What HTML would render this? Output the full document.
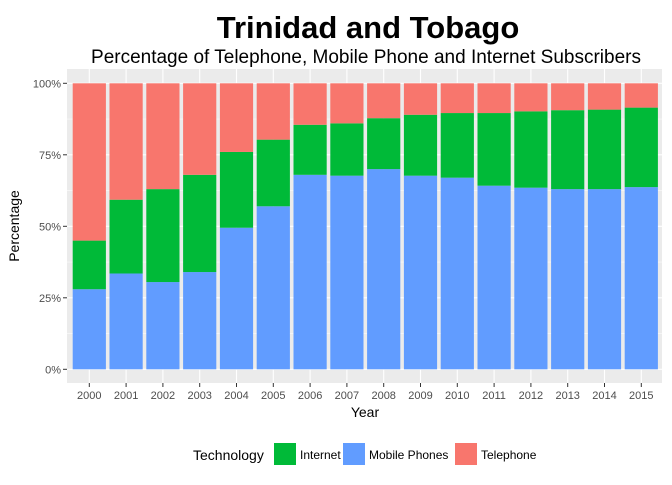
<!DOCTYPE html>
<html><head><meta charset="utf-8"><style>
body{margin:0;background:#fff;font-family:"Liberation Sans",Arial,sans-serif}
</style></head><body>
<svg id="c" width="672" height="480" xmlns="http://www.w3.org/2000/svg">
<rect width="672" height="480" fill="#fff"/>
<text x="368" y="38" text-anchor="middle" font-size="31" font-weight="bold">Trinidad and Tobago</text>
<text x="366" y="63" text-anchor="middle" font-size="19">Percentage of Telephone, Mobile Phone and Internet Subscribers</text>
<rect x="67" y="69" width="595" height="314" fill="#ebebeb"/>
<g id="grid"></g><g id="bars"></g><g id="axes"></g>
<text x="365" y="417" text-anchor="middle" font-size="14">Year</text>
<text transform="translate(19,226) rotate(-90)" text-anchor="middle" font-size="14">Percentage</text>
<g>
<text x="193" y="460" font-size="14">Technology</text>
<g><rect x="274" y="443" width="22" height="22" fill="#00ba38"/><text x="300" y="459" font-size="12">Internet</text></g>
<g><rect x="343" y="443" width="22" height="22" fill="#619cff"/><text x="369" y="459" font-size="12">Mobile Phones</text></g>
<g><rect x="455" y="443" width="22" height="22" fill="#f8766d"/><text x="481" y="459" font-size="12">Telephone</text></g>
</g>
</svg>
<script>
const years=[2000,2001,2002,2003,2004,2005,2006,2007,2008,2009,2010,2011,2012,2013,2014,2015];
const mobile=[28,33.5,30.5,34,49.5,57,68,67.7,70,67.7,67,64.2,63.5,63,63,63.7];
const internet=[17,25.8,32.5,34,26.5,23.3,17.5,18.3,17.8,21.3,22.6,25.4,26.7,27.6,27.8,27.8];
const telephone=[55,40.7,37,32,24,19.7,14.5,14,12.2,11,10.4,10.4,9.8,9.4,9.2,8.5];
const yTicks=[0,25,50,75,100];
const NS="http://www.w3.org/2000/svg";
const x0=89.3,step=36.8,bw=33.2;
const X=i=>x0+i*step;
const Y=v=>369.3-v*2.86;
function mk(t,a,p){const e=document.createElementNS(NS,t);for(const k in a)e.setAttribute(k,a[k]);p.appendChild(e);return e;}
const g=document.getElementById('grid'),b=document.getElementById('bars'),ax=document.getElementById('axes');
for(let k=0;k<yTicks.length-1;k++){const v=(yTicks[k]+yTicks[k+1])/2;
 const l=mk('line',{x1:67,x2:662,y1:Y(v),y2:Y(v),stroke:'#fff','stroke-width':0.5},g);
 
 }
yTicks.forEach(v=>{
 const l=mk('line',{x1:67,x2:662,y1:Y(v),y2:Y(v),stroke:'#fff','stroke-width':1.1},g);
 
 
 mk('line',{x1:63,x2:67,y1:Y(v),y2:Y(v),stroke:'#333'},ax);
 const t=mk('text',{x:61,y:Y(v)+4,'text-anchor':'end','font-size':11,fill:'#4d4d4d'},ax);t.textContent=v+'%';
 
 
});
years.forEach((yr,i)=>{
 const l=mk('line',{x1:X(i),x2:X(i),y1:69,y2:383,stroke:'#fff','stroke-width':1.1},g);
 
 
 const segs=[[0,mobile[i],'#619cff','mobile'],[mobile[i],mobile[i]+internet[i],'#00ba38','internet'],[mobile[i]+internet[i],mobile[i]+internet[i]+telephone[i],'#f8766d','telephone']];
 segs.forEach(s=>{
  const r=mk('rect',{x:X(i)-bw/2,y:Y(s[1]),width:bw,height:Y(s[0])-Y(s[1]),fill:s[2]},b);
  
  
 });
 mk('line',{x1:X(i),x2:X(i),y1:383,y2:387,stroke:'#333'},ax);
 const t=mk('text',{x:X(i),y:399,'text-anchor':'middle','font-size':11,fill:'#4d4d4d'},ax);t.textContent=yr;
 
 
});
</script>
</body></html>
